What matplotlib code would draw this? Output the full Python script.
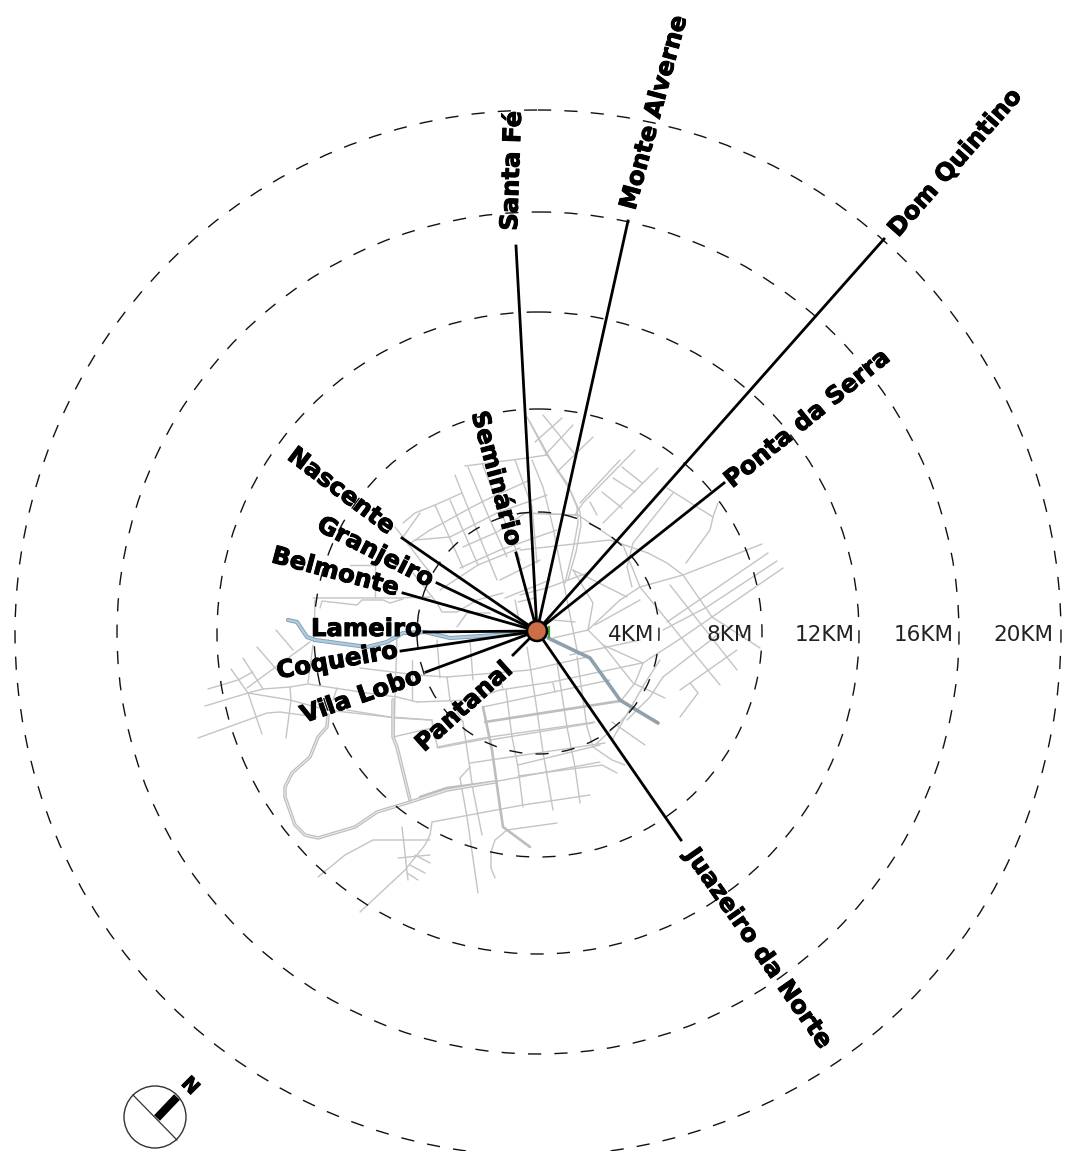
import matplotlib
matplotlib.use('Agg')
import matplotlib.pyplot as plt
import matplotlib.patheffects as pe
from matplotlib.patches import Circle

# hub and rings (map units = pixels of the reference)
hub = (537, 631)
ring_center = (538, 633)
ring_radius = [121, 224, 321, 421, 523]
ring_labels = ['4KM', '8KM', '12KM', '16KM', '20KM']
ring_label_x = [631, 730, 825, 924, 1023]
ring_label_y = 635

places = ['Santa Fé', 'Monte Alverne', 'Dom Quintino', 'Ponta da Serra', 'Juazeiro da Norte',
          'Seminário', 'Nascente', 'Granjeiro', 'Belmonte', 'Lameiro', 'Coqueiro', 'Vila Lobo', 'Pantanal']
end_x = [516, 628, 884, 724, 681, 516, 402, 437, 403, 424, 401, 426, 513]
end_y = [246, 221, 239, 483, 840, 553, 538, 583, 593, 632, 651, 672, 655]
label_x = [512, 654, 955, 807, 758, 496, 341, 375, 335, 366, 337, 361, 464]
label_y = [171, 113, 163, 419, 948, 478, 491, 552, 572, 629, 661, 696, 707]
label_rot = [88, 75, 48.6, 39, -55, -75, -37, -27, -15, 0, 10, 19, 42]

streets = [
    # south grid
    [(447, 677), (530, 670), (587, 657)], [(500, 690), (552, 682), (642, 663)],
    [(483, 707), (530, 697), (610, 680)], [(490, 740), (593, 723)],
    [(437, 747), (483, 738), (595, 722)], [(470, 763), (605, 743)],
    [(518, 765), (600, 745)], [(518, 776), (602, 765), (617, 773)],
    [(493, 782), (600, 762)], [(432, 822), (523, 805), (590, 795)], [(507, 830), (557, 823)],
    [(527, 647), (535, 697), (543, 752), (553, 810)], [(557, 663), (567, 727), (575, 767), (580, 803)],
    [(506, 690), (512, 737), (518, 767), (523, 807)], [(463, 722), (473, 790), (482, 835)],
    [(460, 778), (467, 817), (478, 893)], [(460, 778), (470, 767)],
    [(577, 657), (587, 727), (593, 747)], [(447, 677), (450, 700), (463, 722)],
    [(503, 690), (500, 675)], [(553, 683), (555, 692)],
    [(593, 747), (612, 760), (625, 765)], [(595, 745), (620, 722), (633, 708)],
    [(612, 740), (645, 683), (660, 660)], [(612, 722), (645, 745)],
    # south west
    [(393, 737), (432, 728)], [(432, 720), (433, 730), (438, 748), (490, 738)],
    [(347, 710), (390, 717), (432, 720)], [(417, 702), (470, 700), (500, 690)],
    [(432, 822), (430, 835), (425, 845), (405, 870), (360, 912)],
    [(430, 840), (373, 840), (345, 855), (318, 877)], [(402, 827), (408, 880)],
    [(398, 858), (430, 855)], [(415, 855), (430, 863)], [(410, 865), (425, 873)], [(407, 873), (418, 880)],
    [(507, 830), (495, 840), (491, 852), (491, 868), (495, 878)],
    # west
    [(208, 689), (238, 680), (253, 672)],
    [(205, 706), (248, 693), (263, 689), (290, 687), (308, 684), (367, 693), (397, 697), (417, 702)],
    [(248, 693), (290, 700), (327, 710), (397, 718), (430, 720)],
    [(198, 738), (267, 713), (280, 712), (317, 717)],
    [(231, 669), (248, 693), (262, 734)], [(243, 658), (263, 689)], [(257, 647), (277, 670)],
    [(276, 630), (293, 650)], [(247, 688), (310, 642)], [(290, 687), (291, 700), (286, 738)],
    [(313, 645), (308, 683)], [(315, 600), (314, 642)],
    [(397, 637), (395, 697), (394, 735)], [(412, 660), (412, 700)], [(360, 668), (417, 675)],
    [(337, 688), (333, 700)], [(417, 675), (447, 677)], [(437, 640), (440, 678)], [(470, 640), (473, 680)],
    [(313, 598), (397, 598), (430, 597)],
    [(320, 608), (322, 601), (357, 605), (362, 600), (383, 600), (390, 603), (403, 599)],
    # north west grid
    [(403, 523), (415, 513), (435, 505), (462, 493)],
    [(430, 530), (443, 523), (472, 507), (490, 498), (530, 480)],
    [(408, 545), (430, 530)], [(450, 537), (497, 513), (547, 495)],
    [(463, 547), (497, 532), (525, 513)], [(460, 568), (500, 550), (557, 530)],
    [(415, 540), (450, 537)], [(478, 565), (520, 548)],
    [(500, 580), (540, 560)], [(505, 598), (525, 590), (550, 580)],
    [(468, 467), (490, 520), (507, 557)], [(455, 475), (478, 533), (497, 580)],
    [(435, 505), (463, 568)], [(450, 500), (478, 565)], [(482, 463), (520, 560)],
    [(515, 460), (532, 507), (537, 563)], [(465, 466), (527, 458), (547, 455)],
    [(527, 417), (547, 455), (567, 483), (577, 507), (578, 523), (573, 550), (565, 583)],
    [(530, 422), (552, 462), (570, 490), (580, 512), (581, 525), (576, 552), (568, 580)],
    [(532, 460), (543, 487), (553, 527), (567, 600), (578, 655)],
    [(525, 513), (578, 515)], [(350, 565), (377, 565)], [(375, 560), (375, 597)],
    [(420, 513), (403, 537), (395, 527)], [(413, 573), (437, 603)],
    [(437, 603), (442, 612), (457, 612), (477, 600), (503, 593)],
    [(457, 627), (467, 613), (490, 613)], [(515, 600), (520, 625)], [(518, 602), (535, 598)],
    [(403, 537), (420, 560), (432, 575)], [(440, 590), (478, 565)],
    # north east
    [(562, 418), (535, 442)], [(573, 425), (545, 455)], [(593, 437), (557, 472)], [(543, 415), (577, 457)],
    [(635, 450), (583, 503), (575, 515)], [(620, 460), (580, 503)], [(658, 468), (603, 523)],
    [(622, 467), (642, 483)], [(613, 478), (635, 492)], [(602, 492), (622, 508)], [(590, 502), (597, 515)],
    [(673, 493), (633, 543), (627, 567), (632, 587)],
    [(667, 488), (713, 517), (718, 503)], [(713, 517), (710, 530), (686, 563)],
    # east
    [(762, 544), (683, 575), (640, 587)], [(768, 553), (667, 622)], [(777, 561), (707, 607), (663, 630)],
    [(783, 568), (712, 617), (683, 637), (643, 663), (635, 683), (620, 702)],
    [(648, 553), (667, 563), (683, 575), (712, 617), (760, 648)],
    [(553, 638), (588, 630), (603, 645), (643, 663)], [(620, 600), (588, 630)],
    [(640, 587), (620, 600)], [(670, 585), (737, 670)], [(640, 587), (720, 685)],
    [(663, 677), (720, 633)], [(680, 690), (737, 650)], [(690, 683), (698, 693), (680, 717)],
    [(663, 677), (650, 697), (627, 720)], [(603, 645), (633, 683), (665, 698)],
    [(520, 550), (610, 540), (648, 553)], [(520, 513), (578, 515), (623, 545), (640, 587)],
    [(573, 570), (627, 597)], [(553, 620), (575, 622)], [(573, 570), (593, 603), (588, 630)],
    [(570, 655), (640, 640)], [(520, 595), (547, 588), (587, 573)], [(595, 625), (640, 600)],
]
wide_streets = [
    [(485, 722), (620, 701)],
    [(483, 707), (492, 750), (500, 807), (503, 827), (530, 847)],
    [(420, 797), (447, 788), (493, 782)],
]
ring_road = [(328, 715), (327, 727), (318, 737), (310, 757), (292, 773), (285, 787), (285, 797), (295, 825),
             (305, 835), (318, 838), (355, 827), (377, 812), (410, 802), (447, 790), (495, 782)]
side_road = [(393, 700), (393, 737), (397, 747), (410, 800)]
river_west = [(288, 620), (297, 622), (307, 637), (315, 640), (367, 647), (387, 642), (403, 633), (425, 632),
              (450, 638), (497, 635), (527, 633)]
river_east = [(548, 638), (590, 658), (620, 700), (633, 708), (658, 723)]


def trace(ax, pts, **kw):
    ax.plot([p[0] for p in pts], [p[1] for p in pts], solid_capstyle='round', **kw)


fig = plt.figure(figsize=(10.67, 11.51), dpi=100)
ax = fig.add_axes([0, 0, 1, 1])
ax.set_xlim(0, 1067)
ax.set_ylim(1151, 0)
ax.axis('off')

for s in streets:
    trace(ax, s, color='#c4c4c4', lw=1.0, zorder=1)
for s in wide_streets:
    trace(ax, s, color='#bdbdbd', lw=1.9, zorder=1)
for s in [ring_road, side_road]:
    trace(ax, s, color='#bdbdbd', lw=2.5, zorder=1)
    trace(ax, s, color='#ececec', lw=0.8, zorder=1)

trace(ax, river_west, color='#8f9aa3', lw=3.0, zorder=2)
trace(ax, river_west, color='#a5cfe8', lw=1.7, zorder=2)
trace(ax, river_east, color='#8fa0ad', lw=2.6, zorder=2)
ax.plot([549, 549], [627, 637], color='#3f9e3a', lw=1.6, zorder=2)

for r in ring_radius:
    ax.add_patch(Circle(ring_center, r, fill=False, ec='#111111', lw=1.0,
                        linestyle=(0, (9.5, 9.5)), zorder=3))
for t, x in zip(ring_labels, ring_label_x):
    ax.text(x, ring_label_y, t, ha='center', va='center', fontsize=15.5, color='#222222', zorder=4)

for x, y in zip(end_x, end_y):
    ax.plot([hub[0], x], [hub[1], y], color='black', lw=2.0, zorder=5)
ax.add_patch(Circle(hub, 10, fc='#cc6d45', ec='black', lw=1.8, zorder=6))

# Montserrat is not available, a thin stroke brings DejaVu Bold up to its weight
heavy = [pe.withStroke(linewidth=0.7, foreground='black')]
for name, x, y, rot in zip(places, label_x, label_y, label_rot):
    ax.text(x, y, name, ha='center', va='center', rotation=rot, rotation_mode='anchor',
            fontsize=17.5, fontweight='bold', color='black', zorder=7, path_effects=heavy)

# north arrow
ax.add_patch(Circle((155, 1117), 31, fill=False, ec='#333333', lw=1.0, zorder=4))
ax.plot([133, 177], [1095, 1140], color='#333333', lw=0.9, zorder=4)
ax.plot([157, 177], [1118, 1097], color='black', lw=5.8, solid_capstyle='butt', zorder=5)
ax.text(190, 1086, 'N', ha='center', va='center', rotation=-45, rotation_mode='anchor',
        fontsize=14, fontweight='bold', color='black', path_effects=heavy)

fig.savefig('out.png', dpi=100)
